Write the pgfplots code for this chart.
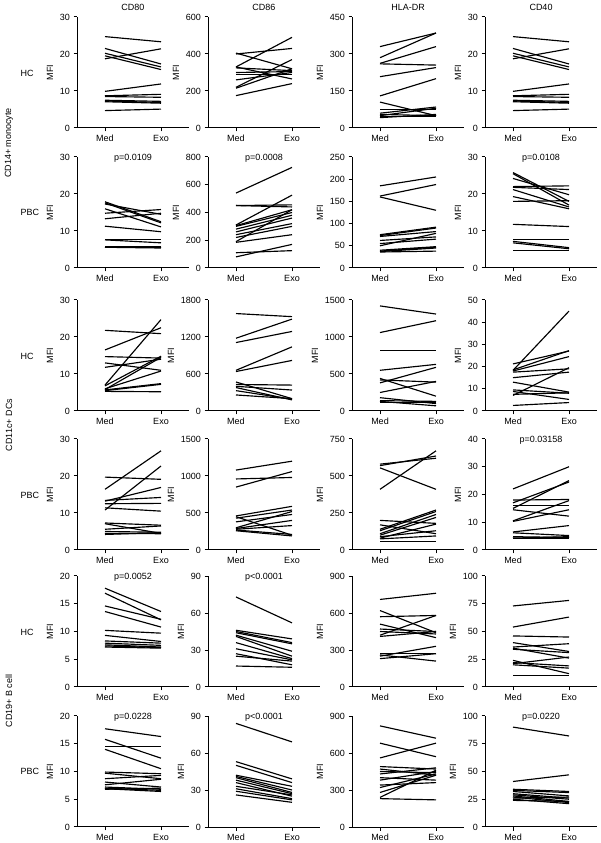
\documentclass[border=0pt]{standalone}
\usepackage{fontspec}
\setmainfont{Liberation Sans}
\usepackage{pgfplots}
\pgfplotsset{compat=1.18}
\usepackage{pgfplotstable}

% one table per panel: MFI with medium (med) and with exosomes (exo), one row per donor
% CD14+ monocytes
\pgfplotstableread{
med exo
24.7 23.3
21.5 17.3
20.2 16.5
19.5 15.8
18.7 21.4
9.9 11.9
8.7 9.1
8.5 8.3
7.5 7.2
7.3 6.9
7.1 6.7
4.7 5.1
}\MoHCa
\pgfplotstableread{
med exo
405 320
400 430
330 490
325 310
300 305
290 290
330 265
260 300
220 370
215 320
175 240
}\MoHCb
\pgfplotstableread{
med exo
330 385
285 385
262 330
260 255
208 245
130 200
105 50
75 75
60 85
55 50
50 80
45 45
42 55
}\MoHCc
\pgfplotstableread{
med exo
24.7 23.3
21.5 17.3
20.2 16.5
19.5 15.8
18.7 21.4
9.9 11.9
8.7 9.1
8.5 8.3
7.5 7.2
7.3 6.9
7.1 6.7
4.7 5.1
}\MoHCd
\pgfplotstableread{
med exo
17.9 12.5
17.6 12.2
17.3 14.5
16.0 11.1
14.8 15.8
13.3 14.8
11.3 9.8
7.8 7.8
7.6 6.8
5.9 5.9
5.7 5.6
5.6 5.4
}\MoPBCa
\pgfplotstableread{
med exo
540 725
450 455
450 440
310 525
305 420
300 400
280 380
260 360
240 320
220 300
190 420
185 240
110 125
80 170
}\MoPBCb
\pgfplotstableread{
med exo
185 205
162 188
160 130
75 92
73 90
71 82
62 70
55 65
50 78
40 48
38 47
37 45
36 38
}\MoPBCc
\pgfplotstableread{
med exo
25.8 18.0
25.5 17.0
24.2 19.8
22.0 22.2
21.8 21.2
21.2 16.5
19.3 16.0
18.0 18.2
11.8 11.2
7.8 7.8
7.2 5.5
6.8 5.2
4.7 4.7
}\MoPBCd
% CD11c+ DCs
\pgfplotstableread{
med exo
21.8 20.9
16.5 22.5
14.7 14.3
13.0 11.0
11.8 14.0
7.0 24.7
6.8 14.8
6.0 10.8
5.8 14.5
5.7 7.4
5.5 7.2
5.3 5.2
}\DcHCa
\pgfplotstableread{
med exo
1580 1530
1180 1490
1110 1290
660 1040
640 820
470 200
430 420
400 340
380 180
330 190
260 200
}\DcHCb
\pgfplotstableread{
med exo
1420 1310
1060 1220
820 820
550 630
440 200
420 390
380 590
250 400
180 100
140 130
130 70
120 120
}\DcHCc
\pgfplotstableread{
med exo
18.3 45
21.2 27
18.5 27.2
18.0 24.5
17.5 19
15.0 17.5
13.0 8.5
9.5 8.0
8.8 5.2
7.0 19.5
7.5 8.2
2.5 3.8
}\DcHCd
\pgfplotstableread{
med exo
19.7 19.1
16.4 26.8
13.4 14.2
13.2 16.9
12.5 12.6
11.4 10.5
10.8 22.7
7.3 6.7
7.1 4.5
5.6 6.5
5.0 4.8
4.5 4.4
4.2 4.7
}\DcPBCa
\pgfplotstableread{
med exo
1080 1200
960 980
850 1060
460 590
450 200
430 540
380 480
300 520
290 400
280 330
270 210
260 190
}\DcPBCb
\pgfplotstableread{
med exo
580 620
570 635
555 410
410 670
200 180
170 110
140 270
130 260
110 240
100 220
90 130
80 175
75 95
60 60
}\DcPBCc
\pgfplotstableread{
med exo
22 30
18 18.2
17 24.5
16 16
15 25
14.5 12.2
10.5 17.8
10.3 14.5
6.5 8.8
6.2 5.2
4.8 4.5
4.3 4.8
4.2 4.2
}\DcPBCd
% CD19+ B cells
\pgfplotstableread{
med exo
17.8 13.6
16.9 12.1
14.6 12.2
13.6 10.8
10.2 9.7
9.3 8.2
8.3 7.9
7.9 7.5
7.6 7.2
7.4 7.1
7.2 7.0
}\BcHCa
\pgfplotstableread{
med exo
73 52
46 39
45 36
44 35
42 29
41 25
36 23
31 22
27 18
25 21
17 16
}\BcHCb
\pgfplotstableread{
med exo
710 760
620 440
570 580
510 400
470 450
450 430
420 580
410 450
270 270
260 210
250 330
230 270
}\BcHCc
\pgfplotstableread{
med exo
73 78
54 63
46 45
40 32
36 39
35 26
34 31
24 12
22 19
21 27
20 17
10 10
}\BcHCd
\pgfplotstableread{
med exo
17.7 16.3
15.8 12.4
14.5 14.5
14.0 10.5
9.9 9.6
9.7 8.7
8.7 9.3
8.1 7.2
7.6 8.6
7.2 6.8
7.0 6.6
6.9 6.4
6.8 7.0
}\BcPBCa
\pgfplotstableread{
med exo
84 69
53 39
50 36
42 33
41 30
40 28
38 27
36 25
33 26
31 23
29 22
26 20
}\BcPBCb
\pgfplotstableread{
med exo
820 720
680 570
560 680
490 470
470 420
450 440
430 480
400 380
380 450
340 360
320 430
280 420
240 460
230 220
}\BcPBCc
\pgfplotstableread{
med exo
90 82
41 47
34 32
33 31
32 28
30 26
29 25
28 23
27 22
26 27
25 21
24 23
}\BcPBCd

\pgfplotsset{
  panel/.style={
    scale only axis, width=112pt, height=111pt, anchor=south west,
    axis lines*=left, axis line style={line width=1pt, black},
    xmin=-0.5, xmax=1.5, ymin=0,
    xtick={0,1}, xticklabels={Med,Exo},
    tick align=outside, major tick length=3.5pt,
    tick style={line width=1pt, black},
    ylabel=MFI,
    label style={font=\fontsize{9}{11}\selectfont},
    ticklabel style={font=\fontsize{9}{11}\selectfont},
    /pgf/number format/assume math mode=true,
    /pgf/number format/1000 sep={},
    scaled y ticks=false, clip=false,
  },
  pair/.style={black, line width=1.15pt, no markers,
    quiver={u=1, v=\thisrow{exo}-\thisrow{med}}},
}

% #1 left edge, #2 bottom edge, #3 ymax, #4 tick step, #5 table, #6 p value
\newcommand\panel[6]{%
  \begin{axis}[panel, at={(#1pt,#2pt)}, ymax=#3, ytick distance=#4]
    \addplot[pair] table[x expr=0, y=med] {#5};
    \node[font=\fontsize{9}{11}\selectfont] at (rel axis cs:0.5,0.985) {#6};
  \end{axis}}

\begin{document}
\begin{tikzpicture}[every node/.style={font=\fontsize{9}{11}\selectfont}]
\useasboundingbox (0,0) rectangle (600pt,843pt);

\panel{77}{715}{30}{10}{\MoHCa}{}
\panel{208}{715}{600}{200}{\MoHCb}{}
\panel{352}{715}{450}{150}{\MoHCc}{}
\panel{485}{715}{30}{10}{\MoHCd}{}

\panel{77}{575}{30}{10}{\MoPBCa}{p=0.0109}
\panel{208}{575}{800}{200}{\MoPBCb}{p=0.0008}
\panel{352}{575}{250}{50}{\MoPBCc}{}
\panel{485}{575}{30}{10}{\MoPBCd}{p=0.0108}

\panel{77}{432}{30}{10}{\DcHCa}{}
\panel{208}{432}{1800}{600}{\DcHCb}{}
\panel{352}{432}{1500}{500}{\DcHCc}{}
\panel{485}{432}{50}{10}{\DcHCd}{}

\panel{77}{293}{30}{10}{\DcPBCa}{}
\panel{208}{293}{1500}{500}{\DcPBCb}{}
\panel{352}{293}{750}{250}{\DcPBCc}{}
\panel{485}{293}{40}{10}{\DcPBCd}{p=0.03158}

\panel{77}{156}{20}{5}{\BcHCa}{p=0.0052}
\panel{208}{156}{90}{30}{\BcHCb}{p<0.0001}
\panel{352}{156}{900}{300}{\BcHCc}{}
\panel{485}{156}{100}{25}{\BcHCd}{}

\panel{77}{16}{20}{5}{\BcPBCa}{p=0.0228}
\panel{208}{16}{90}{30}{\BcPBCb}{p<0.0001}
\panel{352}{16}{900}{300}{\BcPBCc}{}
\panel{485}{16}{100}{25}{\BcPBCd}{p=0.0220}

% marker names over the columns
\node at (133pt,836pt) {CD80};
\node at (264pt,836pt) {CD86};
\node at (408pt,836pt) {HLA-DR};
\node at (541pt,836pt) {CD40};

% donor groups
\foreach \y/\g in {770/HC, 631/PBC, 487/HC, 348/PBC, 211/HC, 72/PBC}
  \node[anchor=west] at (17pt,\y pt) {\g};

% cell types
\node[rotate=90] at (9pt,700pt) {CD14+ monocyte};
\node[rotate=90] at (9pt,418pt) {CD11c+ DCs};
\node[rotate=90] at (9pt,142pt) {CD19+ B cell};
\end{tikzpicture}
\end{document}
